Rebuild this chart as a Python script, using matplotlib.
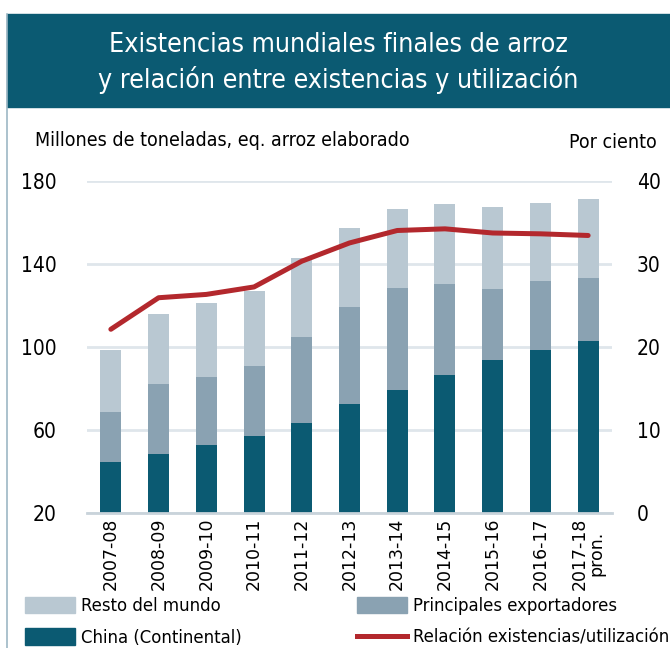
import matplotlib
matplotlib.use("Agg")
from matplotlib import pyplot as plt
import matplotlib.patches as mpatches
from matplotlib.lines import Line2D
import numpy as np

campanas = ["2007-08", "2008-09", "2009-10", "2010-11", "2011-12", "2012-13",
            "2013-14", "2014-15", "2015-16", "2016-17", "2017-18\npron."]

china = np.array([44.4, 48.3, 52.5, 57.0, 63.4, 72.4, 79.0, 86.4, 93.4, 98.4, 102.6])
exportadores = np.array([24.1, 33.7, 33.1, 33.7, 41.4, 46.6, 49.4, 43.7, 34.6, 33.1, 30.5])
resto = np.array([29.9, 33.8, 35.3, 36.1, 37.9, 38.1, 38.0, 38.8, 39.5, 37.6, 37.9])
relacion = np.array([22.1, 25.9, 26.3, 27.2, 30.3, 32.5, 34.0, 34.2, 33.7, 33.6, 33.4])

c_resto = "#b9c8d2"
c_export = "#8aa2b2"
c_china = "#0b5a72"
c_rojo = "#b3282d"

cond = dict(family="DejaVu Sans", stretch="condensed")

fig = plt.figure(figsize=(6.7, 6.48), dpi=100)

# cabecera
fig.patches.append(mpatches.Rectangle((7/670, 1-107/648), 1, 93/648, transform=fig.transFigure,
                                      color=c_china, zorder=0))
fig.lines.append(Line2D([7/670, 7/670], [0, 1-14/648], transform=fig.transFigure,
                        color="#9db8c5", lw=1.2))
fig.text(338/670, 1-45/648, "Existencias mundiales finales de arroz", color="white",
         ha="center", va="center", fontsize=19.3, **cond)
fig.text(338/670, 1-80/648, "y relación entre existencias y utilización", color="white",
         ha="center", va="center", fontsize=19.3, **cond)

ax = fig.add_axes([87/670, 1-512.7/648, (612-87)/670, (512.7-180.7)/648])
x = np.arange(len(campanas))
w = 0.44
ax.bar(x, china - 20, w, bottom=20, color=c_china, zorder=2)
ax.bar(x, exportadores, w, bottom=china, color=c_export, zorder=2)
ax.bar(x, resto, w, bottom=china + exportadores, color=c_resto, zorder=2)

ax.set_xlim(-0.5, 10.5)
ax.set_ylim(20, 180)
ax.set_yticks([20, 60, 100, 140, 180])
ax.yaxis.grid(True, color="#dfe6eb", lw=2)
ax.set_axisbelow(True)
for s in ["left", "right", "top"]:
    ax.spines[s].set_visible(False)
ax.spines["bottom"].set_color("#c9d3da")
ax.spines["bottom"].set_linewidth(2)
ax.tick_params(length=0)
ax.tick_params(axis="y", labelsize=15, pad=22)
for t in ax.get_yticklabels():
    t.set_fontstretch("condensed")
ax.set_xticks(x)
ax.set_xticklabels(campanas, rotation=90, fontsize=12.5, va="top", linespacing=0.9)

ax2 = ax.twinx()
ax2.plot(x, relacion, color=c_rojo, lw=3.6, solid_capstyle="round", zorder=3)
ax2.set_ylim(0, 40)
ax2.set_yticks([0, 10, 20, 30, 40])
for s in ["left", "right", "top", "bottom"]:
    ax2.spines[s].set_visible(False)
ax2.tick_params(length=0, labelsize=15, pad=18)
for t in ax2.get_yticklabels():
    t.set_fontstretch("condensed")

fig.text(35/670, 1-140/648, "Millones de toneladas, eq. arroz elaborado", fontsize=14,
         va="center", **cond)
fig.text(657/670, 1-143/648, "Por ciento", fontsize=14, va="center", ha="right", **cond)

# leyenda en dos columnas, cada una por separado
col1 = [mpatches.Patch(color=c_resto, label="Resto del mundo"),
        mpatches.Patch(color=c_china, label="China (Continental)")]
col2 = [mpatches.Patch(color=c_export, label="Principales exportadores"),
        Line2D([], [], color=c_rojo, lw=3.6, label="Relación existencias/utilización")]
for hs, x0 in [(col1, 25), (col2, 357)]:
    fig.legend(handles=hs, loc="upper left", bbox_to_anchor=(x0/670, 1-597/648),
               frameon=False, prop=dict(size=13.2, **cond), handlelength=2.75,
               handleheight=1.0, handletextpad=0.3, labelspacing=0.7,
               borderaxespad=0, borderpad=0)

fig.savefig("out.png", dpi=100)
